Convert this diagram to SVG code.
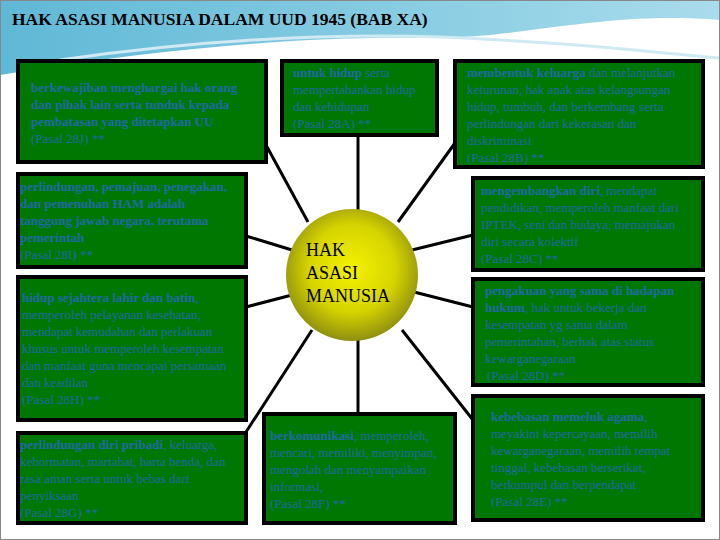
<svg xmlns="http://www.w3.org/2000/svg" width="720" height="540" viewBox="0 0 720 540">
<defs>
<radialGradient id="g" cx="0.5" cy="0.45" r="0.55"><stop offset="0" stop-color="#f4f200"/><stop offset="0.6" stop-color="#d6d400"/><stop offset="1" stop-color="#8f8f10"/></radialGradient>
<linearGradient id="sky" x1="0" y1="0" x2="1" y2="0"><stop offset="0" stop-color="#5fb8d6"/><stop offset="1" stop-color="#a9dcec"/></linearGradient>
<style>
.box{fill:#007700;stroke:#000;stroke-width:4}
.t{font-family:"Liberation Serif",serif;font-size:13px;fill:#1f6aa8}
.b{font-weight:bold}
.c line{stroke:#000;stroke-width:3}
</style>
</defs>
<rect width="720" height="540" fill="#fff"/>
<path d="M0 0H720V20C600 10 520 40 420 38C300 36 150 50 0 75Z" fill="url(#sky)"/>
<path d="M60 60C200 40 350 30 500 40C600 45 680 55 720 58" fill="none" stroke="#cfeaf3" stroke-width="3"/>
<rect x="0.5" y="0.5" width="719" height="539" fill="none" stroke="#888"/>
<text x="12" y="25" font-family="'Liberation Serif',serif" font-weight="bold" font-size="17.5" fill="#000">HAK ASASI MANUSIA DALAM UUD 1945 (BAB XA)</text>
<g class="c">
<line x1="266" y1="145" x2="308" y2="222"/>
<line x1="358" y1="135" x2="358" y2="212"/>
<line x1="455" y1="143" x2="398" y2="222"/>
<line x1="473" y1="235" x2="412" y2="250"/>
<line x1="246" y1="236" x2="292" y2="250"/>
<line x1="246" y1="307" x2="292" y2="295"/>
<line x1="246" y1="432" x2="312" y2="330"/>
<line x1="358" y1="340" x2="358" y2="413"/>
<line x1="473" y1="307" x2="414" y2="292"/>
<line x1="473" y1="420" x2="402" y2="330"/>
</g>
<g id="center"><circle cx="352" cy="275" r="66" fill="url(#g)"/>
<text font-family="'Liberation Serif',serif" font-size="18" fill="#000"><tspan x="306" y="256">HAK</tspan><tspan x="306" y="279">ASASI</tspan><tspan x="306" y="302">MANUSIA</tspan></text></g>
<g id="n28J"><rect class="box" x="18" y="61" width="248" height="101"/>
<text class="t"><tspan x="31" y="92" class="b">berkewajiban menghargai hak orang</tspan><tspan x="31" y="109" class="b">dan pihak lain serta tunduk kepada</tspan><tspan x="31" y="126" class="b">pembatasan yang ditetapkan UU</tspan><tspan x="31" y="143">(Pasal 28J) **</tspan></text></g>
<g id="n28A"><rect class="box" x="282" y="61" width="155" height="74"/>
<text class="t"><tspan x="293" y="77"><tspan class="b">untuk hidup</tspan> serta</tspan><tspan x="293" y="94">mempertahankan hidup</tspan><tspan x="293" y="111">dan kehidupan</tspan><tspan x="293" y="128">(Pasal 28A) **</tspan></text></g>
<g id="n28B"><rect class="box" x="455" y="61" width="248" height="106"/>
<text class="t"><tspan x="467" y="77"><tspan class="b">membentuk keluarga</tspan> dan melanjutkan</tspan><tspan x="467" y="94">keturunan, hak anak atas kelangsungan</tspan><tspan x="467" y="111">hidup, tumbuh, dan berkembang serta</tspan><tspan x="467" y="128">perlindungan dari kekerasan dan</tspan><tspan x="467" y="145">diskriminasi</tspan><tspan x="467" y="162">(Pasal 28B) **</tspan></text></g>
<g id="n28C"><rect class="box" x="473" y="178" width="230" height="92"/>
<text class="t"><tspan x="481" y="195"><tspan class="b">mengembangkan diri</tspan>, mendapat</tspan><tspan x="481" y="212">pendidikan, memperoleh manfaat dari</tspan><tspan x="481" y="229">IPTEK, seni dan budaya, memajukan</tspan><tspan x="481" y="246">diri secara kolektif</tspan><tspan x="481" y="263">(Pasal 28C) **</tspan></text></g>
<g id="n28I"><rect class="box" x="18" y="174" width="228" height="93"/>
<text class="t"><tspan x="20" y="191" class="b">perlindungan, pemajuan, penegakan,</tspan><tspan x="20" y="208" class="b">dan pemenuhan HAM adalah</tspan><tspan x="20" y="225" class="b">tanggung jawab negara, terutama</tspan><tspan x="20" y="242" class="b">pemerintah</tspan><tspan x="20" y="259">(Pasal 28I) **</tspan></text></g>
<g id="n28H"><rect class="box" x="18" y="277" width="228" height="143"/>
<text class="t"><tspan x="22" y="302"><tspan class="b">hidup sejahtera lahir dan batin</tspan>,</tspan><tspan x="22" y="319">memperoleh pelayanan kesehatan,</tspan><tspan x="22" y="336">mendapat kemudahan dan perlakuan</tspan><tspan x="22" y="353">khusus untuk memperoleh kesempatan</tspan><tspan x="22" y="370">dan manfaat guna mencapai persamaan</tspan><tspan x="22" y="387">dan keadilan</tspan><tspan x="22" y="404">(Pasal 28H) **</tspan></text></g>
<g id="n28G"><rect class="box" x="18" y="433" width="228" height="90"/>
<text class="t"><tspan x="20" y="449"><tspan class="b">perlindungan diri pribadi</tspan>, keluarga,</tspan><tspan x="20" y="466">kehormatan, martabat, harta benda, dan</tspan><tspan x="20" y="483">rasa aman serta untuk bebas dari</tspan><tspan x="20" y="500">penyiksaan</tspan><tspan x="20" y="517">(Pasal 28G) **</tspan></text></g>
<g id="n28F"><rect class="box" x="264" y="414" width="191" height="109"/>
<text class="t"><tspan x="270" y="440"><tspan class="b">berkomunikasi</tspan>, memperoleh,</tspan><tspan x="270" y="457">mencari, memiliki, menyimpan,</tspan><tspan x="270" y="474">mengolah dan menyampaikan</tspan><tspan x="270" y="491">informasi,</tspan><tspan x="270" y="508">(Pasal 28F) **</tspan></text></g>
<g id="n28D"><rect class="box" x="473" y="279" width="230" height="106"/>
<text class="t"><tspan x="485" y="295" class="b">pengakuan yang sama di hadapan</tspan><tspan x="485" y="312"><tspan class="b">hukum</tspan>, hak untuk bekerja dan</tspan><tspan x="485" y="329">kesempatan yg sama dalam</tspan><tspan x="485" y="346">pemerintahan, berhak atas status</tspan><tspan x="485" y="363">kewarganegaraan</tspan><tspan x="487" y="380">(Pasal 28D) **</tspan></text></g>
<g id="n28E"><rect class="box" x="473" y="396" width="230" height="124"/>
<text class="t"><tspan x="491" y="421"><tspan class="b">kebebasan memeluk agama</tspan>,</tspan><tspan x="491" y="438">meyakini kepercayaan, memilih</tspan><tspan x="491" y="455">kewarganegaraan, memilih tempat</tspan><tspan x="491" y="472">tinggal, kebebasan berserikat,</tspan><tspan x="491" y="489">berkumpul dan berpendapat</tspan><tspan x="491" y="506">(Pasal 28E) **</tspan></text></g>
</svg>
